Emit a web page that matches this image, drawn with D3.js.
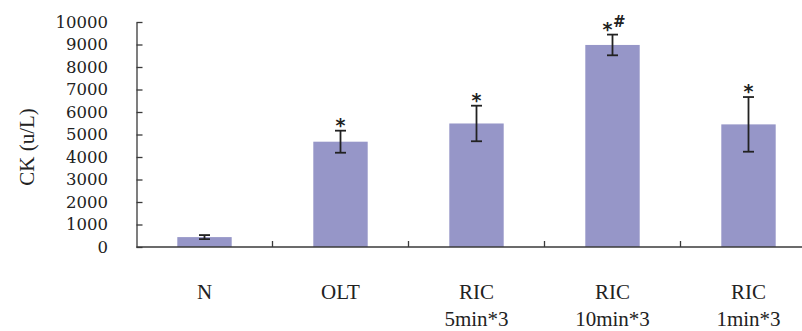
<!DOCTYPE html>
<html>
<head>
<meta charset="utf-8">
<script src="https://cdn.jsdelivr.net/npm/d3@7"></script>
<style>
  html, body { margin: 0; padding: 0; background: #fff; }
  svg { display: block; }
</style>
</head>
<body>
<div id="chart"></div>
<script>
  'use strict';

  var categories = ['N', 'OLT', 'RIC 5min*3', 'RIC 10min*3', 'RIC 1min*3'];
  var labelLines = [['N'], ['OLT'], ['RIC', '5min*3'], ['RIC', '10min*3'], ['RIC', '1min*3']];
  var means = [440, 4680, 5490, 8980, 5450];
  var errors = [90, 490, 790, 460, 1215];
  var marks = ['', '*', '*', '*', '*'];
  var marks2 = ['', '', '', '#', ''];
  var yTicks = [0, 1000, 2000, 3000, 4000, 5000, 6000, 7000, 8000, 9000, 10000];

  var WIDTH = 802;
  var HEIGHT = 331;
  var AXIS_X = 136.5;
  var STEP = 136;
  var BAR_COLOR = '#9696c8';
  var AXIS_COLOR = '#3a3a3a';

  var svg = d3.select('#chart').append('svg')
    .attr('width', WIDTH)
    .attr('height', HEIGHT);

  var x = d3.scaleBand()
    .domain(categories)
    .range([AXIS_X, AXIS_X + STEP * categories.length])
    .paddingInner(0.6)
    .paddingOuter(0.3);

  var y = d3.scaleLinear()
    .domain([0, 10000])
    .range([247, 22]);

  // bars
  svg.append('g').selectAll('rect')
    .data(categories)
    .enter().append('rect')
    .attr('x', function (d) { return x(d); })
    .attr('y', function (d, i) { return y(means[i]); })
    .attr('width', x.bandwidth())
    .attr('height', function (d, i) { return y(0) - y(means[i]); })
    .attr('fill', BAR_COLOR);

  // error bars
  var err = svg.append('g')
    .attr('stroke', '#222')
    .attr('stroke-width', 1.8);
  categories.forEach(function (c, i) {
    var cx = x(c) + x.bandwidth() / 2;
    var top = y(means[i] + errors[i]);
    var bot = y(means[i] - errors[i]);
    err.append('line').attr('x1', cx).attr('x2', cx).attr('y1', top).attr('y2', bot);
    err.append('line').attr('x1', cx - 5.5).attr('x2', cx + 5.5).attr('y1', top).attr('y2', top);
    err.append('line').attr('x1', cx - 5.5).attr('x2', cx + 5.5).attr('y1', bot).attr('y2', bot);
  });

  // significance marks
  categories.forEach(function (c, i) {
    if (!marks[i]) return;
    var cx = x(c) + x.bandwidth() / 2;
    var top = y(means[i] + errors[i]);
    var shift = marks2[i] ? -5 : 0;
    svg.append('text')
      .attr('x', cx + shift)
      .attr('y', top + 1)
      .attr('text-anchor', 'middle')
      .attr('font-family', '"DejaVu Sans", sans-serif')
      .attr('font-weight', 'bold')
      .attr('font-size', 19)
      .attr('fill', '#222')
      .text(marks[i]);
    if (marks2[i]) {
      svg.append('text')
        .attr('x', cx + 0.5)
        .attr('y', top - 7.5)
        .attr('font-family', '"DejaVu Sans", sans-serif')
        .attr('font-weight', 'bold')
        .attr('font-size', 15)
        .attr('fill', '#222')
        .text(marks2[i]);
    }
  });

  // y axis
  var yAxis = d3.axisRight(y)
    .tickValues(yTicks)
    .tickSize(6)
    .tickSizeOuter(0)
    .tickFormat('');
  var yg = svg.append('g')
    .attr('transform', 'translate(' + AXIS_X + ',0)')
    .call(yAxis);
  yg.selectAll('path, line').attr('stroke', AXIS_COLOR).attr('stroke-width', 1.3);

  svg.append('g').selectAll('text')
    .data(yTicks)
    .enter().append('text')
    .attr('x', 108)
    .attr('y', function (d) { return y(d); })
    .attr('dy', '0.36em')
    .attr('text-anchor', 'end')
    .attr('font-family', '"DejaVu Serif", serif')
    .attr('font-size', 16.5)
    .attr('fill', '#222')
    .text(function (d) { return d; });

  // x axis
  var xg = svg.append('g')
    .attr('stroke', AXIS_COLOR)
    .attr('stroke-width', 1.3);
  xg.append('line')
    .attr('x1', AXIS_X).attr('x2', WIDTH)
    .attr('y1', y(0)).attr('y2', y(0));
  categories.forEach(function (c) {
    var bx = x(c) + x.bandwidth() / 2 + x.step() / 2;
    xg.append('line')
      .attr('x1', bx).attr('x2', bx)
      .attr('y1', y(0)).attr('y2', y(0) - 6);
  });

  // category labels
  labelLines.forEach(function (lines, i) {
    var cx = x(categories[i]) + x.bandwidth() / 2;
    var t = svg.append('text')
      .attr('text-anchor', 'middle')
      .attr('font-family', '"Liberation Serif", serif')
      .attr('font-size', 21)
      .attr('fill', '#222');
    lines.forEach(function (line, k) {
      t.append('tspan')
        .attr('x', cx)
        .attr('y', 299 + k * 27)
        .text(line);
    });
  });

  // y label
  svg.append('text')
    .attr('transform', 'translate(34,147) rotate(-90)')
    .attr('text-anchor', 'middle')
    .attr('font-family', '"Liberation Serif", serif')
    .attr('font-size', 21)
    .attr('fill', '#222')
    .text('CK (u/L)');
</script>
</body>
</html>
